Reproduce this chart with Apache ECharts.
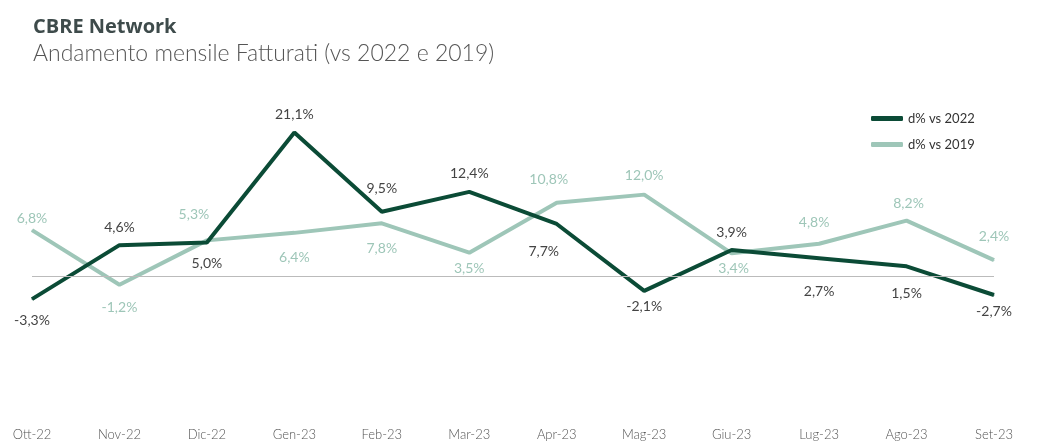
<!DOCTYPE html>
<html><head><meta charset="utf-8">
<script src="https://cdn.jsdelivr.net/npm/echarts@6/dist/echarts.min.js"></script>
<style>html,body{margin:0;padding:0;background:#fff}#c{width:1049px;height:448px}</style>
</head><body><div id="c"></div>
<script>
const categories = ['Ott-22','Nov-22','Dic-22','Gen-23','Feb-23','Mar-23','Apr-23','Mag-23','Giu-23','Lug-23','Ago-23','Set-23'];
const vs2022 = [-3.3, 4.6, 5.0, 21.1, 9.5, 12.4, 7.7, -2.1, 3.9, 2.7, 1.5, -2.7];
const vs2019 = [6.8, -1.2, 5.3, 6.4, 7.8, 3.5, 10.8, 12.0, 3.4, 4.8, 8.2, 2.4];
const seriesNames = ['d% vs 2022', 'd% vs 2019'];

// label placement styles (not data)
const pos2022 = [['bottom',[0,6]],['top',[0,-2]],['bottom',[0,6]],['top',[0,-2]],['top',[0,-8]],['top',[0,-3]],['bottom',[-13,12]],['bottom',[0,0]],['top',[0,-2]],['bottom',[0,18]],['bottom',[0,12]],['bottom',[0,1]]];
const pos2019 = [['top',[0,4]],['bottom',[0,7]],['top',[-13,-10]],['bottom',[0,9]],['bottom',[0,10]],['bottom',[0,0]],['top',[-8,-8]],['top',[0,-4]],['bottom',[2,0]],['top',[-5,-6]],['top',[2,-2]],['top',[0,-8]]];

const fmt = v => v.toFixed(1).replace('.', ',') + '%';
function build(vals, pos, color) {
  return vals.map((v, i) => ({
    value: v,
    label: { position: pos[i][0], offset: pos[i][1], color: color }
  }));
}
const dark = '#0b4b36', light = '#9ec6b8';
const chart = echarts.init(document.getElementById('c'));
chart.setOption({
  backgroundColor: '#fff',
  animation: false,
  title: [
    { text: 'CBRE Network', left: 28, top: 12, textStyle: { fontFamily: 'Open Sans', fontWeight: 'bold', fontSize: 20, color: '#3e4b4b' } },
    { text: 'Andamento mensile Fatturati (vs 2022 e 2019)', left: 28, top: 37, textStyle: { fontFamily: 'Lato', fontWeight: 300, fontSize: 23, color: '#555' } }
  ],
  legend: {
    orient: 'vertical', left: 866, top: 107, itemWidth: 32, itemHeight: 5, itemGap: 13,
    icon: 'roundRect',
    textStyle: { fontFamily: 'Lato', fontSize: 13, color: '#333' },
    data: seriesNames
  },
  grid: { left: 32, right: 55, top: 99, bottom: 28 },
  xAxis: {
    type: 'category', data: categories, boundaryGap: false,
    axisLine: { show: false }, axisTick: { show: false },
    axisLabel: { fontFamily: 'Lato', fontWeight: 300, fontSize: 13, color: '#555', margin: 8 }
  },
  yAxis: { type: 'value', min: -21, max: 26, show: false, splitLine: { show: false } },
  series: [
    {
      name: seriesNames[0], type: 'line', data: build(vs2022, pos2022, '#444'),
      symbol: 'circle', symbolSize: 1, showSymbol: true, z: 3,
      lineStyle: { color: dark, width: 4 }, itemStyle: { color: dark },
      label: { show: true, distance: 8, formatter: p => fmt(p.value), fontFamily: 'Lato', fontSize: 14 },
      markLine: { silent: true, symbol: 'none', label: { show: false }, lineStyle: { color: '#bbb', width: 1, type: 'solid' }, data: [{ yAxis: 0 }] }
    },
    {
      name: seriesNames[1], type: 'line', data: build(vs2019, pos2019, light),
      symbol: 'circle', symbolSize: 1, showSymbol: true, z: 2,
      lineStyle: { color: light, width: 4 }, itemStyle: { color: light },
      label: { show: true, distance: 8, formatter: p => fmt(p.value), fontFamily: 'Lato', fontSize: 14 }
    }
  ]
});
</script></body></html>
